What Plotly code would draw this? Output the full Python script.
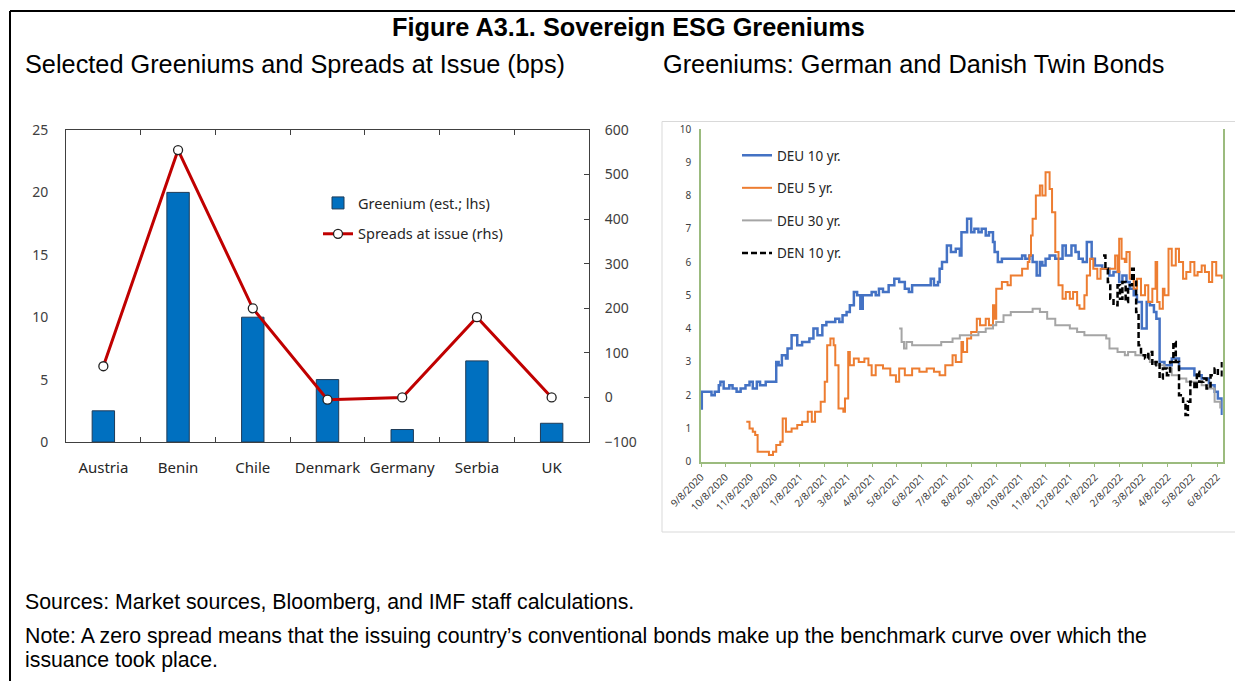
import plotly.graph_objects as go

W, H = 1235, 681

# ---------------- Left chart data ----------------
countries = ["Austria", "Benin", "Chile", "Denmark", "Germany", "Serbia", "UK"]
greenium = [2.5, 20, 10, 5, 1, 6.5, 1.5]
spreads = [70, 555, 200, -5, 0, 180, 0]

# ---------------- Right chart data ----------------
deu10_dates = ["2020-09-08", "2020-09-09", "2020-09-16", "2020-09-21", "2020-09-25", "2020-09-30", "2020-10-02",
               "2020-10-06", "2020-10-13", "2020-10-17", "2020-10-22", "2020-10-27", "2020-11-02", "2020-11-07",
               "2020-11-11", "2020-11-16", "2020-11-20", "2020-11-27", "2020-12-08", "2020-12-10", "2020-12-13",
               "2020-12-17", "2020-12-22", "2020-12-24", "2020-12-29", "2021-01-01", "2021-01-05", "2021-01-11",
               "2021-01-16", "2021-01-20", "2021-01-25", "2021-01-30", "2021-02-05", "2021-02-10", "2021-02-15",
               "2021-02-21", "2021-02-26", "2021-03-02", "2021-03-07", "2021-03-11", "2021-03-16", "2021-03-20",
               "2021-03-24", "2021-03-27", "2021-04-03", "2021-04-07", "2021-04-12", "2021-04-16", "2021-04-21",
               "2021-04-28", "2021-05-05", "2021-05-11", "2021-05-18", "2021-05-23", "2021-05-27", "2021-06-03",
               "2021-06-10", "2021-06-14", "2021-06-19", "2021-06-23", "2021-06-28", "2021-06-30", "2021-07-03",
               "2021-07-09", "2021-07-14", "2021-07-20", "2021-07-25", "2021-07-27", "2021-08-01", "2021-08-03",
               "2021-08-08", "2021-08-12", "2021-08-17", "2021-08-21", "2021-08-26", "2021-08-30", "2021-09-04",
               "2021-09-06", "2021-09-10", "2021-09-15", "2021-09-22", "2021-10-01", "2021-10-10", "2021-10-14",
               "2021-10-19", "2021-10-23", "2021-10-28", "2021-11-01", "2021-11-04", "2021-11-08", "2021-11-13",
               "2021-11-20", "2021-11-24", "2021-11-29", "2021-12-03", "2021-12-10", "2021-12-15", "2021-12-19",
               "2021-12-24", "2021-12-29", "2022-01-04", "2022-01-08", "2022-01-17", "2022-01-26", "2022-01-31",
               "2022-02-07", "2022-02-11", "2022-02-16", "2022-02-20", "2022-02-25", "2022-03-01", "2022-03-07",
               "2022-03-13", "2022-03-17", "2022-03-22", "2022-03-25", "2022-03-29", "2022-04-04", "2022-04-13",
               "2022-04-18", "2022-04-22", "2022-05-01", "2022-05-11", "2022-05-20", "2022-05-29", "2022-06-05",
               "2022-06-09", "2022-06-14"]
deu10_vals = [1.6, 2.1, 2.1, 2.0, 2.1, 2.3, 2.4,
              2.2, 2.3, 2.2, 2.1, 2.2, 2.3, 2.4,
              2.2, 2.4, 2.3, 2.4, 2.4, 3.0, 2.9,
              3.2, 3.1, 3.4, 3.8, 3.8, 3.5, 3.6,
              3.6, 3.7, 4.0, 3.8, 4.1, 4.2, 4.2,
              4.3, 4.2, 4.4, 4.5, 4.7, 5.1, 5.0,
              4.6, 5.0, 5.0, 5.1, 5.0, 5.2, 5.1,
              5.3, 5.5, 5.4, 5.2, 5.1, 5.3, 5.3,
              5.3, 5.3, 5.5, 5.3, 5.4, 5.8, 6.0,
              6.5, 6.3, 6.4, 6.2, 6.9, 6.9, 7.3,
              6.9, 7.0, 6.9, 7.0, 6.8, 6.9, 6.6,
              6.3, 6.0, 6.1, 6.1, 6.1, 6.2, 6.1,
              6.2, 6.0, 5.6, 6.0, 5.9, 6.1, 6.2,
              6.1, 6.1, 6.5, 6.2, 6.5, 6.3, 6.1,
              6.0, 6.6, 6.1, 5.9, 5.8, 5.6, 5.7,
              5.4, 5.6, 5.4, 5.2, 5.0, 4.8, 4.0,
              4.8, 4.7, 4.5, 4.3, 3.0, 2.9, 3.1,
              3.1, 2.8, 2.8, 2.6, 2.5, 2.3, 2.1,
              1.9, 1.4]

deu5_dates = ["2020-11-03", "2020-11-07", "2020-11-11", "2020-11-14", "2020-11-17", "2020-11-24", "2020-12-01",
              "2020-12-06", "2020-12-10", "2020-12-15", "2020-12-18", "2020-12-22", "2020-12-29", "2021-01-05",
              "2021-01-11", "2021-01-18", "2021-01-23", "2021-01-27", "2021-02-03", "2021-02-08", "2021-02-11",
              "2021-02-15", "2021-02-19", "2021-02-21", "2021-02-25", "2021-02-28", "2021-03-03", "2021-03-05",
              "2021-03-09", "2021-03-11", "2021-03-16", "2021-03-22", "2021-03-29", "2021-04-03", "2021-04-07",
              "2021-04-12", "2021-04-21", "2021-04-30", "2021-05-07", "2021-05-11", "2021-05-18", "2021-05-27",
              "2021-06-05", "2021-06-14", "2021-06-23", "2021-06-30", "2021-07-07", "2021-07-11", "2021-07-16",
              "2021-07-20", "2021-07-27", "2021-07-29", "2021-08-03", "2021-08-08", "2021-08-15", "2021-08-19",
              "2021-08-26", "2021-08-30", "2021-09-04", "2021-09-06", "2021-09-08", "2021-09-15", "2021-09-22",
              "2021-09-26", "2021-10-03", "2021-10-10", "2021-10-17", "2021-10-19", "2021-10-21", "2021-10-23",
              "2021-10-27", "2021-11-01", "2021-11-04", "2021-11-08", "2021-11-13", "2021-11-16", "2021-11-20",
              "2021-11-24", "2021-11-29", "2021-12-03", "2021-12-08", "2021-12-12", "2021-12-17", "2021-12-20",
              "2021-12-26", "2021-12-29", "2022-01-02", "2022-01-06", "2022-01-11", "2022-01-15", "2022-01-26",
              "2022-02-02", "2022-02-05", "2022-02-07", "2022-02-10", "2022-02-14", "2022-02-16", "2022-02-20",
              "2022-02-25", "2022-03-01", "2022-03-06", "2022-03-11", "2022-03-15", "2022-03-20", "2022-03-24",
              "2022-03-26", "2022-03-29", "2022-04-02", "2022-04-04", "2022-04-09", "2022-04-13", "2022-04-18",
              "2022-04-22", "2022-04-27", "2022-05-01", "2022-05-06", "2022-05-11", "2022-05-15", "2022-05-20",
              "2022-05-24", "2022-05-29", "2022-06-02", "2022-06-07", "2022-06-14"]
deu5_vals = [1.2, 1.0, 0.9, 0.8, 0.3, 0.3, 0.2,
             0.3, 0.5, 0.6, 1.3, 0.9, 1.0, 1.1,
             1.2, 1.5, 1.2, 1.5, 1.8, 2.4, 3.5,
             3.7, 3.5, 2.9, 1.6, 1.6, 1.5, 1.9,
             3.3, 2.9, 3.1, 3.0, 3.1, 2.9, 2.6,
             2.9, 2.8, 2.6, 2.4, 2.8, 2.6, 2.8,
             2.7, 2.8, 2.7, 2.6, 2.9, 2.9, 3.2,
             3.0, 3.6, 3.3, 3.7, 3.9, 4.3, 4.1,
             4.3, 4.1, 4.7, 4.3, 5.2, 5.4, 5.3,
             5.6, 5.6, 5.8, 6.0, 6.2, 6.8, 7.3,
             8.0, 8.3, 8.0, 8.7, 8.2, 7.5, 6.3,
             5.3, 4.9, 5.1, 4.9, 5.1, 4.7, 4.6,
             5.0, 5.6, 6.1, 5.8, 5.5, 5.8, 5.8,
             6.2, 5.7, 6.7, 6.1, 6.0, 6.3, 5.5,
             5.2, 5.5, 5.0, 5.3, 4.8, 5.2, 6.0,
             4.8, 4.6, 5.2, 5.0, 6.4, 5.9, 6.4,
             6.0, 5.5, 5.7, 6.0, 5.6, 5.7, 5.9,
             5.7, 5.4, 6.0, 5.6, 5.5]

deu30_dates = ["2021-05-11", "2021-05-14", "2021-05-17", "2021-05-20", "2021-05-27", "2021-06-10", "2021-06-23",
               "2021-07-02", "2021-07-11", "2021-07-16", "2021-07-25", "2021-08-08", "2021-08-17", "2021-08-26",
               "2021-09-04", "2021-09-08", "2021-09-17", "2021-09-26", "2021-10-08", "2021-10-14", "2021-10-23",
               "2021-11-01", "2021-11-10", "2021-11-20", "2021-11-29", "2021-12-08", "2021-12-17", "2021-12-26",
               "2022-01-04", "2022-01-13", "2022-01-22", "2022-01-26", "2022-02-05", "2022-02-14", "2022-02-18",
               "2022-02-27", "2022-03-08", "2022-03-17", "2022-03-26", "2022-04-04", "2022-04-13", "2022-04-22",
               "2022-05-01", "2022-05-11", "2022-05-20", "2022-05-29", "2022-06-05", "2022-06-12"]
deu30_vals = [4.0, 3.6, 3.4, 3.6, 3.5, 3.5, 3.5,
              3.6, 3.6, 3.7, 3.8, 3.8, 3.9, 4.0,
              4.1, 4.2, 4.4, 4.5, 4.5, 4.5, 4.6,
              4.5, 4.3, 4.1, 4.1, 4.0, 3.9, 3.8,
              3.8, 3.8, 3.7, 3.4, 3.3, 3.2, 3.3,
              3.2, 3.2, 3.0, 2.9, 2.8, 2.6, 2.5,
              2.4, 2.4, 2.3, 2.2, 1.8, 1.6]

den10_dates = ["2022-01-18", "2022-01-21", "2022-01-24", "2022-01-27", "2022-01-31", "2022-02-05", "2022-02-08",
               "2022-02-11", "2022-02-15", "2022-02-18", "2022-02-23", "2022-02-25", "2022-02-28", "2022-03-03",
               "2022-03-06", "2022-03-11", "2022-03-15", "2022-03-20", "2022-03-24", "2022-03-29", "2022-04-02",
               "2022-04-07", "2022-04-11", "2022-04-15", "2022-04-18", "2022-04-22", "2022-04-27", "2022-04-30",
               "2022-05-03", "2022-05-06", "2022-05-11", "2022-05-14", "2022-05-17", "2022-05-22", "2022-05-26",
               "2022-05-31", "2022-06-05", "2022-06-09", "2022-06-14"]
den10_vals = [6.2, 5.8, 5.4, 4.9, 4.7, 5.3, 4.9,
              5.4, 4.8, 5.3, 5.8, 5.5, 4.5, 3.5,
              3.2, 3.1, 3.3, 2.9, 3.0, 2.5, 2.8,
              2.6, 3.0, 3.6, 3.0, 2.0, 1.8, 1.4,
              1.8, 2.4, 2.2, 2.7, 2.4, 2.5, 2.2,
              2.6, 2.8, 2.6, 3.0]


def px(x):
    return x / W


def py(y):
    return 1 - y / H


fig = go.Figure()

# Left chart
fig.add_trace(go.Bar(
    x=countries, y=greenium, name="Greenium (est.; lhs)",
    marker=dict(color="#0070C0", line=dict(color="#1F3B57", width=1)),
    width=0.3, xaxis="x", yaxis="y", legend="legend", legendgroup="g1"))
fig.add_trace(go.Scatter(
    x=countries, y=spreads, name="Spreads at issue (rhs)", mode="lines+markers",
    line=dict(color="#C00000", width=3),
    marker=dict(symbol="circle", size=9, color="white", line=dict(color="#222222", width=1.3)),
    xaxis="x", yaxis="y2", legend="legend", legendgroup="g2"))

# Right chart
series = [
    ("DEU 10 yr.", deu10_dates, deu10_vals, dict(color="#4472C4", width=2.5)),
    ("DEU 5 yr.", deu5_dates, deu5_vals, dict(color="#ED7D31", width=2)),
    ("DEU 30 yr.", deu30_dates, deu30_vals, dict(color="#A5A5A5", width=2)),
    ("DEN 10 yr.", den10_dates, den10_vals, dict(color="#000000", width=2.5, dash="6px,3px")),
]
for i, (nm, xs, ys, ln) in enumerate(series):
    fig.add_trace(go.Scatter(
        x=xs, y=ys, name=nm, mode="lines", line=dict(shape="hv", **ln),
        xaxis="x3", yaxis="y3", legend="legend2", legendgroup="r%d" % i))

tick_font_l = dict(family="Noto Sans", size=14, color="#404040")
tick_font_r = dict(family="Noto Sans", size=10, color="#404040")

fig.update_layout(
    width=W, height=H, margin=dict(l=0, r=0, t=0, b=0, autoexpand=False),
    paper_bgcolor="white", plot_bgcolor="white",
    showlegend=True,
    xaxis=dict(domain=[px(66), px(589)], range=[-0.5, 6.5], type="category", automargin=False,
               showline=True, linecolor="#404040", linewidth=1, mirror="ticks",
               ticks="inside", tickson="boundaries", ticklen=5, tickcolor="#404040", tickangle=0,
               ticklabelstandoff=12,
               tickfont=dict(family="Noto Sans", size=15, color="#262626"),
               showgrid=False, zeroline=False),
    yaxis=dict(domain=[py(442), py(130)], range=[0, 25], dtick=5, automargin=False,
               showline=True, linecolor="#404040", linewidth=1, ticks="", ticklabelstandoff=14,
               tickfont=tick_font_l, showgrid=False, zeroline=False),
    yaxis2=dict(overlaying="y", side="right", anchor="x", range=[-100, 600], dtick=100, automargin=False,
                showline=True, linecolor="#404040", linewidth=1, ticks="inside", ticklen=5,
                ticklabelstandoff=12,
                tickcolor="#404040", tickfont=tick_font_l, showgrid=False, zeroline=False),
    xaxis3=dict(domain=[px(701), px(1222.7)], anchor="y3", type="date", automargin=False,
                range=["2020-09-08", "2022-06-15"],
                tick0="2020-09-08", dtick="M1", tickformat="%-m/%-d/%Y", tickangle=-45,
                showline=True, linecolor="#9BBB7E", linewidth=1.5, ticks="outside", ticklen=4,
                tickcolor="#9BBB7E", tickfont=tick_font_r, showgrid=False, zeroline=False),
    yaxis3=dict(domain=[py(461.7), py(129)], anchor="x3", range=[0, 10], dtick=1, automargin=False,
                showline=True, linecolor="#9BBB7E", linewidth=1.5, mirror=True, ticks="",
                ticklabelstandoff=6,
                tickfont=tick_font_r, showgrid=False, zeroline=False),
    legend=dict(x=px(318), y=py(187), xanchor="left", yanchor="top",
                bgcolor="rgba(0,0,0,0)", font=dict(family="Noto Sans", size=14.5, color="#262626"),
                tracegroupgap=9, itemwidth=30),
    legend2=dict(x=px(737), y=py(140), xanchor="left", yanchor="top",
                 bgcolor="rgba(0,0,0,0)", font=dict(family="Noto Sans", size=13.5, color="#262626"),
                 tracegroupgap=12, itemwidth=30),
    shapes=[
        dict(type="line", xref="paper", yref="paper", x0=px(10), x1=1.0, y0=py(11), y1=py(11),
             line=dict(color="black", width=2)),
        dict(type="line", xref="paper", yref="paper", x0=px(10), x1=px(10), y0=py(11), y1=0,
             line=dict(color="black", width=2)),
        dict(type="rect", xref="paper", yref="paper", x0=px(662), x1=px(1240), y0=py(532), y1=py(121.5),
             line=dict(color="#D9D9D9", width=1), layer="below"),
    ],
    annotations=[
        dict(text="<b>Figure A3.1. Sovereign ESG Greeniums</b>", xref="paper", yref="paper",
             x=px(628), y=py(27), xanchor="center", yanchor="middle", showarrow=False,
             font=dict(family="Liberation Sans", size=25.3, color="black")),
        dict(text="Selected Greeniums and Spreads at Issue (bps)", xref="paper", yref="paper",
             x=px(23), y=py(64), xanchor="left", yanchor="middle", showarrow=False,
             font=dict(family="Liberation Sans", size=25.3, color="black")),
        dict(text="Greeniums: German and Danish Twin Bonds", xref="paper", yref="paper",
             x=px(661), y=py(64), xanchor="left", yanchor="middle", showarrow=False,
             font=dict(family="Liberation Sans", size=25.3, color="black")),
        dict(text="Sources: Market sources, Bloomberg, and IMF staff calculations.", xref="paper", yref="paper",
             x=px(23), y=py(602), xanchor="left", yanchor="middle", showarrow=False,
             font=dict(family="Liberation Sans", size=21.3, color="black")),
        dict(text="Note: A zero spread means that the issuing country’s conventional bonds make up the benchmark curve over which the",
             xref="paper", yref="paper",
             x=px(23), y=py(636), xanchor="left", yanchor="middle", showarrow=False,
             font=dict(family="Liberation Sans", size=21.3, color="black")),
        dict(text="issuance took place.", xref="paper", yref="paper",
             x=px(23), y=py(660), xanchor="left", yanchor="middle", showarrow=False,
             font=dict(family="Liberation Sans", size=21.3, color="black")),
    ],
)

fig.write_html("out.html", config={"displayModeBar": False},
               post_script="document.body.style.margin='0';")
